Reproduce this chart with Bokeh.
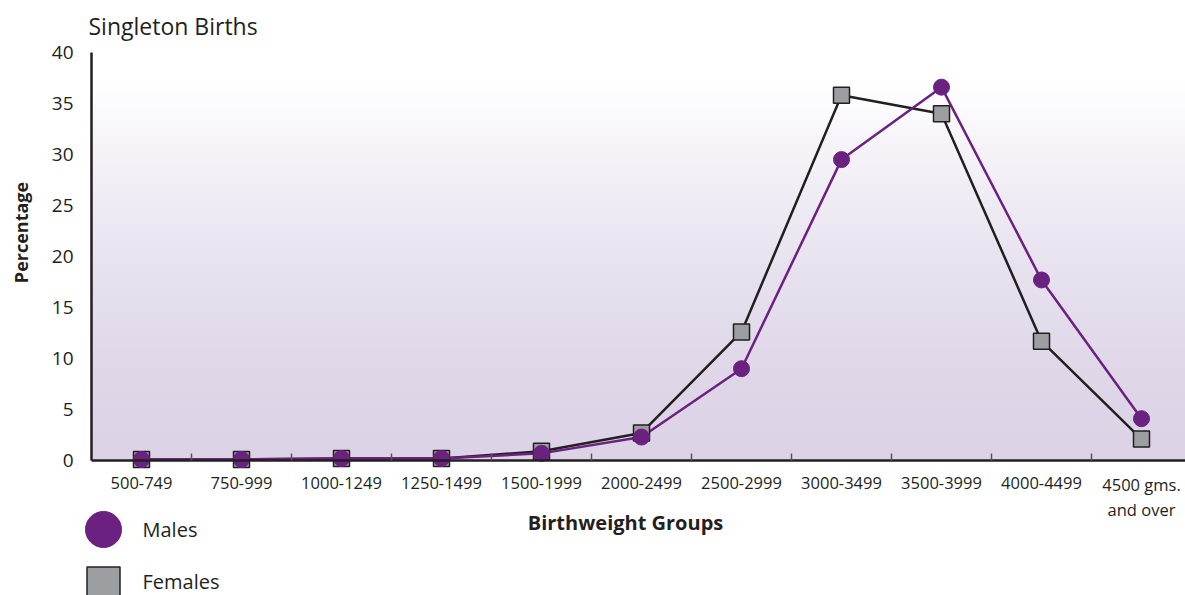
import numpy as np
from bokeh.plotting import figure
from bokeh.models import Range1d, FixedTicker
from bokeh.core.properties import value
from bokeh.embed import file_html
from bokeh.resources import INLINE

# ---- data ----
categories = ["500-749", "750-999", "1000-1249", "1250-1499", "1500-1999",
              "2000-2499", "2500-2999", "3000-3499", "3500-3999", "4000-4499",
              "4500 gms.\nand over"]
males = [0.1, 0.1, 0.2, 0.2, 0.7, 2.3, 9.0, 29.5, 36.6, 17.7, 4.1]
females = [0.1, 0.1, 0.2, 0.2, 0.9, 2.7, 12.6, 35.8, 34.0, 11.7, 2.1]
y_ticks = [0, 5, 10, 15, 20, 25, 30, 35, 40]
y_tick_labels = [str(t) for t in y_ticks]
series_names = ["Males", "Females"]

xs = list(range(len(categories)))
bounds = [i + 0.5 for i in range(len(categories) - 1)]

# ---- layout / style ----
W, H = 1185, 595
X0_PX, X_STEP = 141.0, 100.0      # pixel of first category, px per category
Y0_PX, Y_STEP = 460.0, 10.2       # pixel of value 0, px per unit


def dx(px):
    return (px - X0_PX) / X_STEP


def dy(py):
    return (Y0_PX - py) / Y_STEP


TXT = "#231f20"
PURPLE = "#6b2180"
GREY = "#9d9ea1"
FONT = "Open Sans"

p = figure(width=W, height=H, output_backend="svg", toolbar_location=None,
           x_range=Range1d(dx(0), dx(W)), y_range=Range1d(dy(H), dy(0)),
           min_border=0)
p.outline_line_color = None
p.background_fill_color = "white"
p.border_fill_color = "white"
p.xgrid.visible = False
p.ygrid.visible = False

# background gradient inside the 0..40 plot area (white top -> lavender bottom)
nrows = 300
vals = (np.arange(nrows) + 0.5) / nrows * 40.0
s = np.clip(vals / 37.0, 0, 1) ** 1.6
lav = np.array([220, 211, 230])
wht = np.array([255, 255, 255])
img = np.zeros((nrows, 1), dtype=np.uint32)
view = img.view(dtype=np.uint8).reshape((nrows, 1, 4))
for i in range(nrows):
    c = lav + (wht - lav) * s[i]
    view[i, 0, 0] = int(round(c[0])); view[i, 0, 1] = int(round(c[1]))
    view[i, 0, 2] = int(round(c[2])); view[i, 0, 3] = 255
p.image_rgba(image=[img], x=-0.5, y=0, dw=len(categories), dh=y_ticks[-1], level="image")

# ---- series ----
p.line(xs, females, line_color=TXT, line_width=2.5)
p.line(xs, males, line_color=PURPLE, line_width=2.5)
p.scatter(xs, females, marker="square", size=16, fill_color=GREY,
          line_color=TXT, line_width=1.5)
p.scatter(xs, males, marker="circle", size=16, fill_color=PURPLE,
          line_color=PURPLE, line_width=1)

# ---- axes ----
xa = p.xaxis[0]
xa.fixed_location = 0
xa.bounds = (-0.5, len(categories) - 0.5)
xa.ticker = FixedTicker(ticks=[], minor_ticks=bounds)
xa.major_tick_in = 0
xa.major_tick_out = 0
xa.minor_tick_in = 7
xa.minor_tick_out = 0
xa.minor_tick_line_color = "#555555"
xa.minor_tick_line_width = 1.5
xa.axis_line_color = TXT
xa.axis_line_width = 2.5

ya = p.yaxis[0]
ya.fixed_location = -0.5
ya.bounds = (y_ticks[0], y_ticks[-1])
ya.ticker = FixedTicker(ticks=[])
ya.major_tick_in = 0
ya.major_tick_out = 0
ya.minor_tick_in = 0
ya.minor_tick_out = 0
ya.axis_line_color = TXT
ya.axis_line_width = 2.5

# tick labels
p.text(x=[-0.5] * len(y_ticks), y=y_ticks, text=y_tick_labels, x_offset=-18,
       text_align="right", text_baseline="middle", text_font=value(FONT),
       text_font_size="19px", text_color=TXT)
x_label_offsets = [12 if "\n" in c else 16 for c in categories]
p.text(x=xs, y=[0] * len(xs), text=categories, y_offset=x_label_offsets,
       x_offset=2 if False else 0,
       text_align="center", text_baseline="top", text_font=value(FONT),
       text_font_size="16.5px", text_color=TXT, text_line_height=1.1)

# axis titles and chart title
p.text(x=[dx(625)], y=[dy(522)], text=["Birthweight Groups"],
       text_align="center", text_baseline="middle", text_font=value(FONT),
       text_font_size="20px", text_font_style="bold", text_color=TXT)
p.text(x=[dx(20)], y=[dy(232)], text=["Percentage"], angle=np.pi / 2,
       text_align="center", text_baseline="middle", text_font=value(FONT),
       text_font_size="18px", text_font_style="bold", text_color=TXT)
p.text(x=[dx(88)], y=[dy(25)], text=["Singleton Births"],
       text_align="left", text_baseline="middle", text_font=value(FONT),
       text_font_size="23px", text_color=TXT)

# ---- legend (swatches below the axis) ----
leg_x = [dx(103), dx(103)]
leg_y = [dy(529), dy(581)]
p.scatter([leg_x[0]], [leg_y[0]], marker="circle", size=36,
          fill_color=PURPLE, line_color=PURPLE)
p.scatter([leg_x[1]], [dy(583)], marker="square", size=33,
          fill_color=GREY, line_color=TXT, line_width=1.5)
p.text(x=[dx(142)] * 2, y=leg_y, text=series_names, text_align="left",
       text_baseline="middle", text_font=value(FONT), text_font_size="20px",
       text_color=TXT)

open("out.html", "w").write(file_html(p, INLINE))
